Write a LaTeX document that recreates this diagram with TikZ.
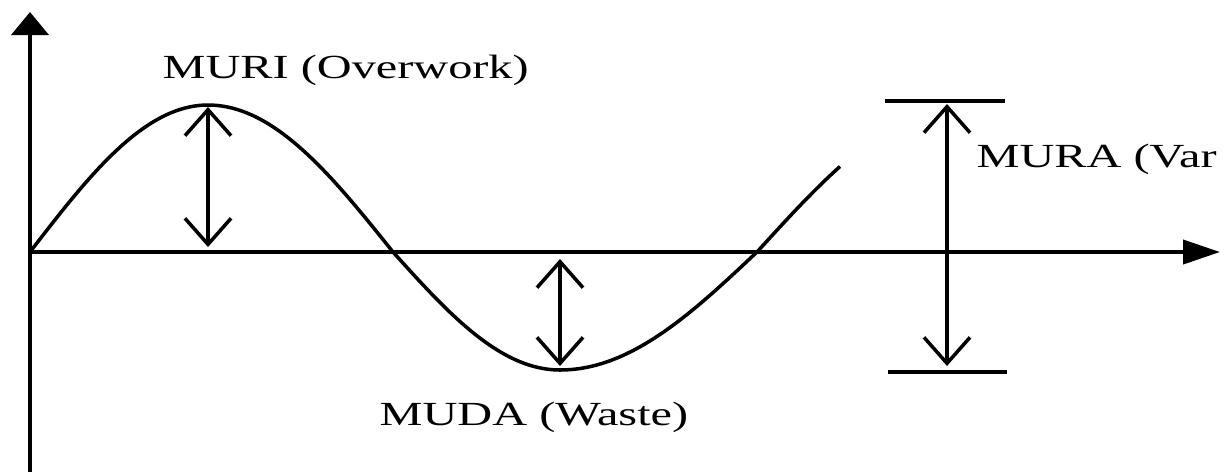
\documentclass[tikz,border=0pt]{standalone}
\usepackage{fontspec}
\setmainfont{Liberation Serif}
\usepackage{graphicx}
\usepackage{tikz}
\usetikzlibrary{arrows.meta, positioning, calc}
\newcommand{\widetext}[1]{\scalebox{1.43}[1]{#1}}
\tikzset{
	axisline/.style={line width=1.1pt, -{Triangle[length=#1]}},
	gaparrow/.style={line width=1pt, {Straight Barb[length=2.6mm, width=4.6mm]}-{Straight Barb[length=2.6mm, width=4.6mm]}},
	wave/.style={line width=1pt, line join=round},
	limitbar/.style={line width=1pt},
	lbl/.style={font=\fontsize{9.6pt}{12pt}\selectfont, anchor=base west, inner sep=0pt},
}
\begin{document}
\begin{tikzpicture}[x=0.01cm, y=-0.01cm]
	\useasboundingbox (0,0) rectangle (1228,472);
	% axes
	\coordinate (origin) at (30,252);
	\coordinate (ybot) at (30,472);
	\coordinate (ytop) at (30,12);
	\coordinate (xend) at (1220,252);
	\draw[axisline={2.3mm, width=3.7mm}] (ybot) -- (ytop);
	\draw[axisline={3.7mm, width=2.4mm}] (origin) -- (xend);
	% the wave
	\draw[wave, samples=40]
		plot[domain=30:208] (\x,{252-147*sin((\x-30)/178*90)})
		-- plot[domain=208:393] (\x,{252-147*cos((\x-208)/185*90)})
		-- plot[domain=393:560] (\x,{252+118*sin((\x-393)/167*90)})
		-- plot[domain=560:757] (\x,{252+118*cos((\x-560)/197*90)})
		-- plot[domain=757:840] (\x,{252-147*sin((\x-757)/210*90)});
	% overwork and waste
	\coordinate (muriTop) at (208,107);
	\coordinate (muriBot) at (208,247);
	\coordinate (mudaTop) at (560,259);
	\coordinate (mudaBot) at (560,366);
	\draw[gaparrow] (muriTop) -- (muriBot);
	\draw[gaparrow] (mudaTop) -- (mudaBot);
	% variation between the two limits
	\coordinate (muraTop) at (947,104);
	\coordinate (muraBot) at (947,366);
	\draw[limitbar] (885,101) -- (1005,101);
	\draw[limitbar] (888,372) -- (1007,372);
	\draw[gaparrow] (muraTop) -- (muraBot);
	% labels
	\node[lbl] (muri) at (162,78) {\widetext{MURI (Overwork)}};
	\node[lbl] (muda) at (379,425) {\widetext{MUDA (Waste)}};
	\node[lbl] (mura) at (976,167) {\widetext{MURA (Var}};
\end{tikzpicture}
\end{document}
